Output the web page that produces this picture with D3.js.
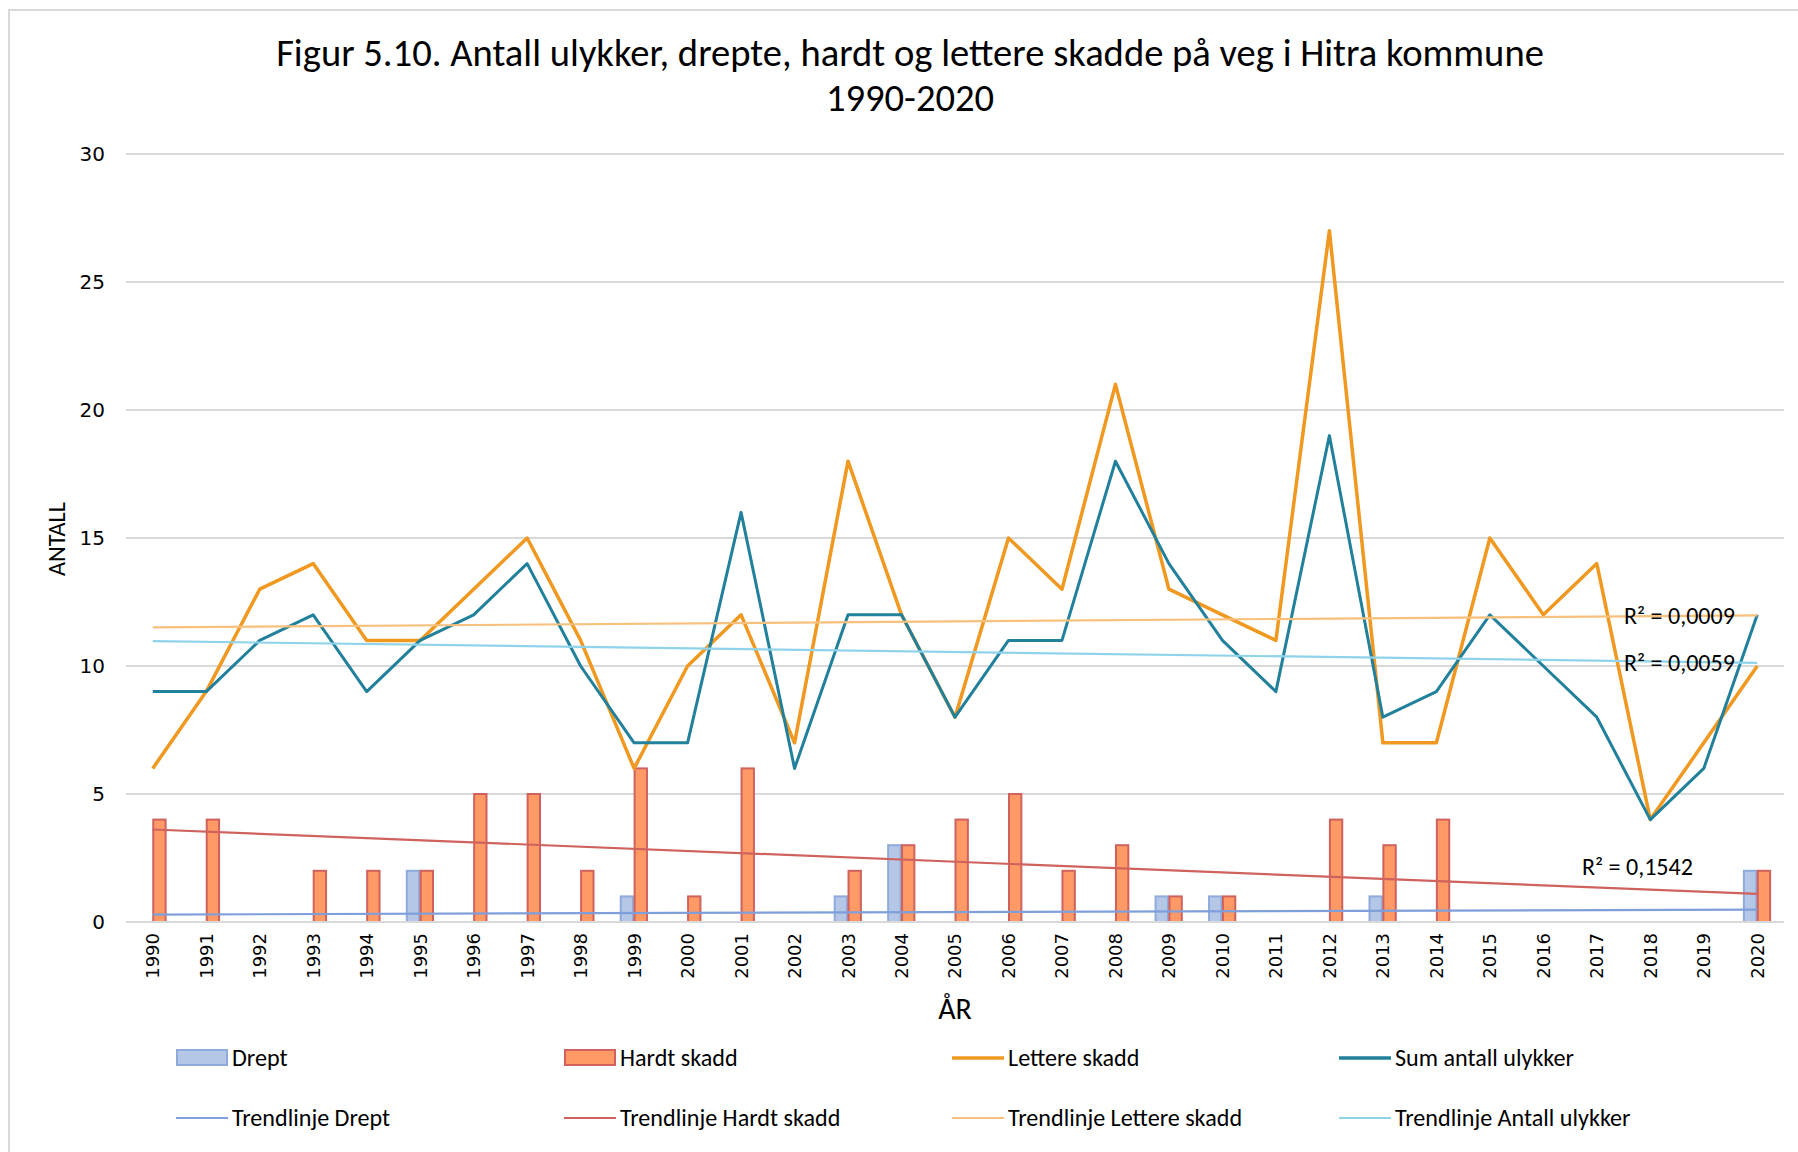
<!DOCTYPE html>
<html><head><meta charset="utf-8">
<script src="https://cdn.jsdelivr.net/npm/d3@7"></script>
<style>
body{margin:0;background:#fff;}
svg{display:block;}
</style></head>
<body>
<svg id="chart" width="1798" height="1152"></svg>
<script>
const years = [1990,1991,1992,1993,1994,1995,1996,1997,1998,1999,2000,2001,2002,2003,2004,2005,2006,2007,2008,2009,2010,2011,2012,2013,2014,2015,2016,2017,2018,2019,2020];
const drept = [0,0,0,0,0,2,0,0,0,1,0,0,0,1,3,0,0,0,0,1,1,0,0,1,0,0,0,0,0,0,2];
const hardtSkadd = [4,4,0,2,2,2,5,5,2,6,1,6,0,2,3,4,5,2,3,1,1,0,4,3,4,0,0,0,0,0,2];
const lettereSkadd = [6,9,13,14,11,11,13,15,11,6,10,12,7,18,12,8,15,13,21,13,12,11,27,7,7,15,12,14,4,7,10];
const sumUlykker = [9,9,11,12,9,11,12,14,10,7,7,16,6,12,12,8,11,11,18,14,11,9,19,8,9,12,10,8,4,6,12];
const yTicks = [0,5,10,15,20,25,30];
const r2Labels = ["R² = 0,0009","R² = 0,0059","R² = 0,1542"];

(function(){
const svg = d3.select("#chart");
const fontMain = "Carlito, Calibri, Lato, sans-serif";
const fontTick = "'DejaVu Sans', sans-serif";

// chart border
svg.append("rect").attr("x",9).attr("y",10).attr("width",1800).attr("height",1160)
  .attr("fill","none").attr("stroke","#d9d9d9").attr("stroke-width",2);

const pL = 126, pR = 1784, pT = 154, pB = 922;
const x = d3.scaleBand().domain(years).range([pL,pR]).paddingInner(0).paddingOuter(0);
const y = d3.scaleLinear().domain([0,30]).range([pB,pT]);
const cx = yr => x(yr) + x.bandwidth()/2;

function fitText(sel, target){
  const w = sel.node().getComputedTextLength();
  const fs = parseFloat(sel.attr("font-size"));
  sel.attr("font-size", fs*target/w);
}
// title
const t1 = svg.append("text").attr("x",910).attr("y",66).attr("text-anchor","middle")
  .attr("font-family",fontMain).attr("font-size",30).attr("fill","#000")
  .text("Figur 5.10. Antall ulykker, drepte, hardt og lettere skadde på veg i Hitra kommune");
fitText(t1,1268);
svg.append("text").attr("x",910).attr("y",111).attr("text-anchor","middle")
  .attr("font-family",fontMain).attr("font-size",t1.attr("font-size")).attr("fill","#000")
  .text("1990-2020");

// gridlines
svg.append("g").selectAll("line").data(yTicks).join("line")
  .attr("x1",pL).attr("x2",pR).attr("y1",d=>y(d)).attr("y2",d=>y(d))
  .attr("stroke","#d9d9d9").attr("stroke-width",2);

// y axis labels
const gy = svg.append("g").attr("transform",`translate(105,0)`)
  .call(d3.axisLeft(y).tickValues(yTicks).tickSize(0).tickPadding(0));
gy.select(".domain").remove();
gy.selectAll("text").attr("font-family",fontTick).attr("font-size",20).attr("fill","#000");

// x axis labels
const gx = svg.append("g").attr("transform",`translate(0,${pB})`)
  .call(d3.axisBottom(x).tickSize(0).tickPadding(0));
gx.select(".domain").remove();
gx.selectAll("text").attr("font-family",fontTick).attr("font-size",18).attr("fill","#000")
  .attr("transform","rotate(-90)").attr("text-anchor","end")
  .attr("x",-11).attr("y",0).attr("dy","0.36em");

// axis titles
svg.append("text").attr("x",955).attr("y",1019).attr("text-anchor","middle")
  .attr("font-family",fontMain).attr("font-size",30).attr("fill","#000").text("ÅR");
const yt = svg.append("text").attr("transform","translate(65,539) rotate(-90)").attr("text-anchor","middle")
  .attr("font-family",fontMain).attr("font-size",20).attr("fill","#000").text("ANTALL");
fitText(yt,74);

// bars
const bw = x.bandwidth()*0.25;
const barData = years.map((yr,i)=>({yr, d:drept[i], h:hardtSkadd[i]}));
svg.append("g").selectAll("rect").data(barData.filter(d=>d.d>0)).join("rect")
  .attr("x",d=>cx(d.yr)-bw).attr("width",bw-1)
  .attr("y",d=>y(d.d)).attr("height",d=>y(0)-y(d.d))
  .attr("fill","#b4c7e7").attr("stroke","#8faadc").attr("stroke-width",2);
svg.append("g").selectAll("rect").data(barData.filter(d=>d.h>0)).join("rect")
  .attr("x",d=>cx(d.yr)+0.5).attr("width",bw-1)
  .attr("y",d=>y(d.h)).attr("height",d=>y(0)-y(d.h))
  .attr("fill","#ff9966").attr("stroke","#d0625e").attr("stroke-width",2);

// x axis line
svg.append("line").attr("x1",pL).attr("x2",pR).attr("y1",pB).attr("y2",pB)
  .attr("stroke","#d9d9d9").attr("stroke-width",2);

// trendlines (least squares, as in Excel)
function trend(vals){
  const n = vals.length; const xs = vals.map((_,i)=>i+1);
  const mx = d3.mean(xs), my = d3.mean(vals);
  let sxy=0,sxx=0; xs.forEach((xi,i)=>{sxy+=(xi-mx)*(vals[i]-my); sxx+=(xi-mx)**2;});
  const b = sxy/sxx, a = my-b*mx;
  return [a+b*1, a+b*n];
}
const line = d3.line().x(d=>cx(d[0])).y(d=>y(d[1]));

svg.append("path").datum(years.map((yr,i)=>[yr,lettereSkadd[i]])).attr("d",line)
  .attr("fill","none").attr("stroke","#f0981f").attr("stroke-width",3.5).attr("stroke-linejoin","round");
svg.append("path").datum(years.map((yr,i)=>[yr,sumUlykker[i]])).attr("d",line)
  .attr("fill","none").attr("stroke","#21809b").attr("stroke-width",3).attr("stroke-linejoin","round");

const trendDefs = [
  {vals:drept,color:"#7f9fdb"},
  {vals:hardtSkadd,color:"#d0625e"},
  {vals:lettereSkadd,color:"#f7c07c"},
  {vals:sumUlykker,color:"#8ed3ea"}
];
trendDefs.forEach(t=>{
  const [a,b] = trend(t.vals);
  svg.append("path").datum([[years[0],a],[years[years.length-1],b]]).attr("d",line)
    .attr("fill","none").attr("stroke",t.color).attr("stroke-width",2.2);
});

// R² labels
const r2Pos = [[1624,624],[1624,671],[1582,875]];
r2Labels.forEach((s,i)=>{
  const tx = svg.append("text").attr("x",r2Pos[i][0]).attr("y",r2Pos[i][1])
    .attr("font-family",fontMain).attr("font-size",19).attr("fill","#000").text(s);
  fitText(tx,111);
});

// legend
const legendItems = [
  {name:"Drept",type:"bar",fill:"#b4c7e7",stroke:"#8faadc"},
  {name:"Hardt skadd",type:"bar",fill:"#ff9966",stroke:"#d0625e"},
  {name:"Lettere skadd",type:"line",stroke:"#f0981f",w:3.5},
  {name:"Sum antall ulykker",type:"line",stroke:"#21809b",w:3.5},
  {name:"Trendlinje Drept",type:"line",stroke:"#7f9fdb",w:2.2},
  {name:"Trendlinje Hardt skadd",type:"line",stroke:"#d0625e",w:2.2},
  {name:"Trendlinje Lettere skadd",type:"line",stroke:"#f7c07c",w:2.2},
  {name:"Trendlinje Antall ulykker",type:"line",stroke:"#8ed3ea",w:2.2}
];
const probe = svg.append("text").attr("font-family",fontMain).attr("font-size",20).text("Sum antall ulykker");
fitText(probe,179);
const legendFs = parseFloat(probe.attr("font-size"));
probe.remove();

const colX = [176,564,952,1339], rowY = [1058,1118];
legendItems.forEach((it,i)=>{
  const g = svg.append("g").attr("transform",`translate(${colX[i%4]},${rowY[Math.floor(i/4)]})`);
  if(it.type==="bar"){
    g.append("rect").attr("x",1).attr("y",-8).attr("width",50).attr("height",15)
      .attr("fill",it.fill).attr("stroke",it.stroke).attr("stroke-width",2);
  } else {
    g.append("line").attr("x1",0).attr("x2",52).attr("y1",0).attr("y2",0)
      .attr("stroke",it.stroke).attr("stroke-width",it.w);
  }
  g.append("text").attr("x",56).attr("y",0).attr("dy","0.35em")
    .attr("font-family",fontMain).attr("font-size",legendFs).attr("fill","#000").text(it.name);
});
})();
</script>
</body></html>
